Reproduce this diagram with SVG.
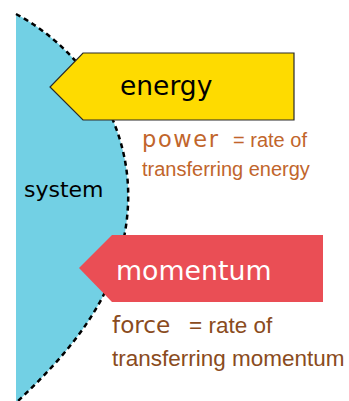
<svg xmlns="http://www.w3.org/2000/svg" width="349" height="401" viewBox="0 0 349 401">
<style>
.lbl{font-family:"DejaVu Sans",sans-serif}
.note{font-family:"Liberation Sans",Arial,sans-serif}
.pw{fill:#c1652b}
.fc{fill:#8a4b20}
</style>
<rect width="349" height="401" fill="#ffffff"/>
<g id="system">
<path d="M16,14 C80,48 132,120 128,205 C124,290 72,350 18,401 L16,401 Z" fill="#72d0e4"/>
<path d="M16,14 C80,48 132,120 128,205 C124,290 72,350 18,401" fill="none" stroke="#000" stroke-width="2.5" stroke-dasharray="5,4"/>
<text class="lbl" x="24" y="197" font-size="22" fill="#000">system</text>
</g>
<g id="connectors"></g>
<g id="energy">
<polygon points="83,53 294,53 294,120 83,120 50,87" fill="#fedb00" stroke="#2a2a2a" stroke-width="1.2"/>
<text class="lbl" x="120" y="95" font-size="26.5" fill="#000">energy</text>
</g>
<g id="power">
<text class="lbl pw" x="142" y="147" font-size="22.5" letter-spacing="1.6">power</text>
<text class="note pw" x="233" y="147" font-size="20">= rate of</text>
<text class="note pw" x="142" y="176" font-size="20">transferring energy</text>
</g>
<g id="momentum">
<polygon points="112,235 323,235 323,302 112,302 79,268" fill="#ea4e55"/>
<text class="lbl" x="116" y="280" font-size="26.8" fill="#fff">momentum</text>
</g>
<g id="force">
<text class="lbl fc" x="112" y="333" font-size="23.2">force</text>
<text class="note fc" x="189" y="333" font-size="22.5">= rate of</text>
<text class="note fc" x="112" y="366" font-size="22.5">transferring momentum</text>
</g>
</svg>
